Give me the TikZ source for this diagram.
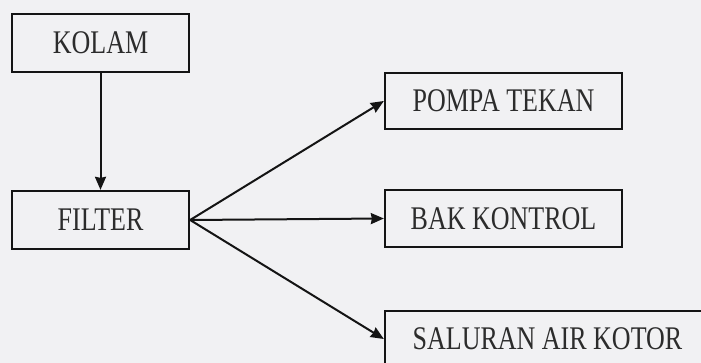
\documentclass[tikz,border=0pt]{standalone}
\usepackage{fontspec}
\usepackage{graphicx}
\setmainfont{Liberation Serif}
\usetikzlibrary{arrows.meta}
\definecolor{bgc}{RGB}{241,241,243}
\definecolor{ink}{RGB}{20,20,20}
\newcommand{\tall}[1]{\scalebox{1}[1.27]{#1}}
\tikzset{
  box/.style={draw=ink, line width=2.3pt, rectangle, inner sep=0pt,
    font=\fontsize{26}{30}\selectfont, text=ink!90},
  flow/.style={draw=ink, line width=2pt, -{Stealth[length=13pt,width=11pt,inset=1pt]}}
}
\begin{document}
\begin{tikzpicture}[x=1pt,y=-1pt]
\useasboundingbox (0,0) rectangle (701,363);
\clip (0,0) rectangle (701,363);
\fill[bgc] (0,0) rectangle (701,363);
\node[box, minimum width=177pt, minimum height=58pt] (kolam) at (100.5,43) {\tall{KOLAM}};
\node[box, minimum width=177pt, minimum height=58pt] (filter) at (100.5,220) {\tall{FILTER}};
\node[box, minimum width=237pt, minimum height=56pt] (pompa) at (503.5,101) {\tall{POMPA TEKAN}};
\node[box, minimum width=237pt, minimum height=57pt] (bak) at (503.5,218.5) {\tall{BAK KONTROL}};
\node[box, minimum width=325pt, minimum height=56pt] (saluran) at (547.5,339) {\tall{SALURAN AIR KOTOR}};
\draw[flow] (kolam.south) -- (filter.north);
\draw[flow] (filter.east) -- (pompa.west);
\draw[flow] (filter.east) -- (bak.west);
\draw[flow] (filter.east) -- (saluran.west);
\end{tikzpicture}
\end{document}
